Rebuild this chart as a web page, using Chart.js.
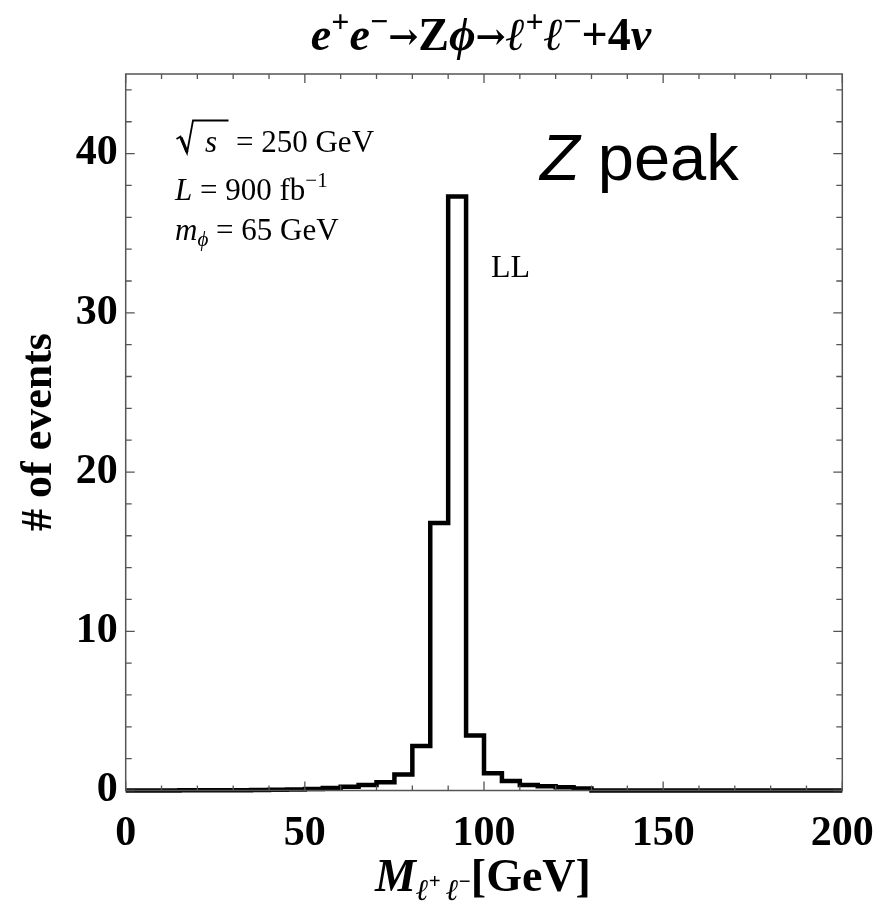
<!DOCTYPE html>
<html>
<head>
<meta charset="utf-8">
<script src="https://cdn.jsdelivr.net/npm/chart.js@4.4.1/dist/chart.umd.min.js"></script>
<style>
html,body{margin:0;padding:0;background:#fff;}
#wrap{width:881px;height:902px;position:relative;}
</style>
</head>
<body>
<div id="wrap"><canvas id="c" width="881" height="902"></canvas></div>
<script>
// Bin left edges (GeV), 5 GeV bins
const binEdges = [0,5,10,15,20,25,30,35,40,45,50,55,60,65,70,75,80,85,90,95,100,105,110,115,120,125,130,135,140,145,150,155,160,165,170,175,180,185,190,195,200];
// Events per bin (LL)
const eventsLL = [0.0,0.0,0.0,0.01,0.01,0.02,0.02,0.03,0.04,0.06,0.09,0.15,0.24,0.35,0.52,1.0,2.8,16.8,37.3,3.45,1.08,0.6,0.35,0.27,0.2,0.12,0,0,0,0,0,0,0,0,0,0,0,0,0,0];
const xTickLabels = [0,50,100,150,200];
const yTickLabels = [0,10,20,30,40];

const points = binEdges.map((e,i)=>({x:e, y: i<eventsLL.length ? eventsLL[i] : eventsLL[eventsLL.length-1]}));

const SERIF = "'Liberation Serif','Times New Roman','DejaVu Serif',serif";

function drawRich(ctx, segs, x, y, align){
  let w = 0;
  segs.forEach(s=>{ctx.font=s.font; s.w=ctx.measureText(s.t).width + (s.sp||0); w+=s.w;});
  let cx = align==='center' ? x - w/2 : x;
  segs.forEach(s=>{ctx.font=s.font; ctx.fillText(s.t, cx + (s.dx||0), y + (s.dy||0)); cx += s.w;});
  return w;
}

const framePlugin = {
  id:'frame',
  afterDatasetsDraw(chart){
    const {ctx, chartArea:a, scales:{x,y}} = chart;
    ctx.save();
    ctx.strokeStyle='#555'; ctx.lineWidth=1.5;
    ctx.strokeRect(a.left, a.top, a.right-a.left, a.bottom-a.top);
    ctx.lineWidth=1.3;
    ctx.beginPath();
    for(let v=0; v<=200; v+=10){
      const px = x.getPixelForValue(v);
      const len = v%50===0 ? 9 : 5;
      ctx.moveTo(px, a.bottom); ctx.lineTo(px, a.bottom-len);
      ctx.moveTo(px, a.top); ctx.lineTo(px, a.top+len);
    }
    for(let v=0; v<=45; v+=2){
      const py = y.getPixelForValue(v);
      const len = v%10===0 ? 9 : 6;
      ctx.moveTo(a.left, py); ctx.lineTo(a.left+len, py);
      ctx.moveTo(a.right, py); ctx.lineTo(a.right-len, py);
    }
    ctx.stroke();
    ctx.restore();
  },
  afterDraw(chart){
    const {ctx} = chart;
    ctx.save();
    ctx.fillStyle='#000';
    ctx.textBaseline='alphabetic';
    const B = s=>`bold ${s}px ${SERIF}`;
    const BI = s=>`italic bold ${s}px ${SERIF}`;
    const AR = s=>`bold ${s}px 'DejaVu Serif',serif`;
    // Title
    drawRich(ctx,[
      {t:'e',font:BI(46)},{t:'+',font:B(32),dy:-18},
      {t:'e',font:BI(46)},{t:'\u2212',font:B(32),dy:-18},
      {t:'\u2192',font:AR(36),dy:-1},{t:'Z',font:B(46)},{t:'\u03D5',font:BI(46)},
      {t:'\u2192',font:AR(36),dy:-1},{t:'\u2113',font:BI(46)},{t:'+',font:B(32),dy:-18},
      {t:'\u2113',font:BI(46)},{t:'\u2212',font:B(32),dy:-18},
      {t:'+4',font:B(46)},{t:'\u03BD',font:BI(46)}
    ], 481, 50, 'center');
    // Y axis title
    ctx.save();
    ctx.translate(51, 432);
    ctx.rotate(-Math.PI/2);
    ctx.font = B(44);
    ctx.textAlign='center';
    ctx.fillText('# of events', 0, 0);
    ctx.restore();
    ctx.textAlign='left';
    // X axis title
    drawRich(ctx,[
      {t:'M',font:BI(46)},
      {t:'\u2113',font:BI(30),dy:9},{t:'+ ',font:B(21),dy:-3},
      {t:'\u2113',font:BI(30),dy:9},{t:'\u2212',font:B(21),dy:-3},
      {t:'[GeV]',font:B(46)}
    ], 483, 891, 'center');
    // Annotation block
    const R = s=>`${s}px ${SERIF}`;
    const I = s=>`italic ${s}px ${SERIF}`;
    ctx.beginPath(); ctx.strokeStyle='#000'; ctx.lineWidth=1.8; ctx.lineJoin='miter';
    ctx.moveTo(176.5, 139); ctx.lineTo(180.5, 136.5); ctx.lineTo(187, 153); ctx.lineTo(193, 120.5); ctx.lineTo(228.5, 120.5);
    ctx.stroke();
    ctx.beginPath(); ctx.lineWidth=3.2;
    ctx.moveTo(181, 137.5); ctx.lineTo(187, 152);
    ctx.stroke();
    ctx.font = I(31);
    ctx.fillText('s', 205, 152);
    ctx.font = R(31);
    ctx.fillText('= 250 GeV', 236, 152);
    drawRich(ctx,[
      {t:'L',font:I(31)},{t:' = 900 fb',font:R(31)},{t:'\u22121',font:R(21),dy:-13}
    ], 175, 200, 'left');
    drawRich(ctx,[
      {t:'m',font:I(31)},{t:'\u03D5',font:I(21),dy:6},{t:' = 65 GeV',font:R(31)}
    ], 175, 240, 'left');
    // Z peak
    drawRich(ctx,[
      {t:'Z',font:"italic 65px 'Liberation Sans',Arial,sans-serif"},
      {t:' peak',font:"65px 'Liberation Sans',Arial,sans-serif"}
    ], 540, 180, 'left');
    // LL
    ctx.font = R(32);
    ctx.fillText('LL', 491, 277);
    ctx.restore();
  }
};

new Chart(document.getElementById('c'), {
  type:'line',
  data:{datasets:[{
    label:'LL',
    data:points,
    borderColor:'#000',
    borderWidth:4.5,
    pointRadius:0,
    stepped:true,
    fill:false,
    clip:false,
    borderJoinStyle:'miter',
    borderCapStyle:'butt'
  }]},
  options:{
    responsive:false,
    animation:false,
    events:[],
    layout:{padding:{top:74,right:38.7,bottom:0,left:0}},
    plugins:{legend:{display:false},tooltip:{enabled:false},title:{display:false}},
    scales:{
      x:{type:'linear',min:0,max:200,
        grid:{display:false,drawTicks:false},border:{display:false},
        afterFit(s){s.height=902-790.5; s.paddingLeft=0; s.paddingRight=0;},
        ticks:{stepSize:50,includeBounds:false,padding:18,color:'#000',
          font:{family:SERIF,weight:'bold',size:42},
          callback:(v)=>xTickLabels.includes(v)?String(v):''}
      },
      y:{type:'linear',min:0,max:45,
        grid:{display:false,drawTicks:false},border:{display:false},
        afterFit(s){s.width=125.7; s.paddingTop=0; s.paddingBottom=0;},
        ticks:{stepSize:10,includeBounds:false,padding:8,color:'#000',
          font:{family:SERIF,weight:'bold',size:42},
          callback:(v)=>yTickLabels.includes(v)?String(v):''}
      }
    }
  },
  plugins:[framePlugin]
});
</script>
</body>
</html>
